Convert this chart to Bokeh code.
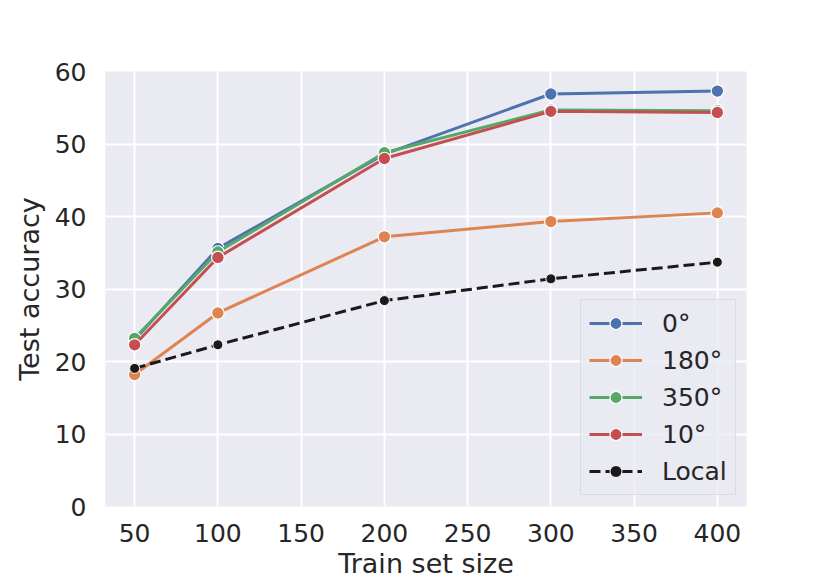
from bokeh.plotting import figure
from bokeh.models import Range1d, FixedTicker, Legend, LegendItem
from bokeh.embed import file_html
from bokeh.resources import INLINE

train_sizes = [50, 100, 200, 300, 400]
acc_0 = [23.0, 35.6, 48.6, 56.9, 57.3]
acc_180 = [18.2, 26.7, 37.2, 39.3, 40.5]
acc_350 = [23.2, 35.1, 48.8, 54.7, 54.6]
acc_10 = [22.3, 34.35, 48.0, 54.5, 54.35]
acc_local = [19.05, 22.3, 28.4, 31.4, 33.7]

series_names = ["0°", "180°", "350°", "10°"]
series_values = [acc_0, acc_180, acc_350, acc_10]
series_colors = ["#4C72B0", "#DD8452", "#55A868", "#C44E52"]
x_ticks = [50, 100, 150, 200, 250, 300, 350, 400]
y_ticks = [0, 10, 20, 30, 40, 50, 60]
x_label = "Train set size"
y_label = "Test accuracy"

FONT = "DejaVu Sans"
TXT = "#262626"

p = figure(width=830, height=581, output_backend="svg", toolbar_location=None,
           x_range=Range1d(32.5, 417.5), y_range=Range1d(0, 60),
           min_border_left=105, min_border_right=84, min_border_top=71, min_border_bottom=73)
p.background_fill_color = "#EAEAF2"
p.border_fill_color = "white"
p.outline_line_color = None

for ax in (p.xaxis[0], p.yaxis[0]):
    ax.axis_line_color = None
    ax.major_tick_line_color = None
    ax.minor_tick_line_color = None
    ax.major_tick_in = 0
    ax.major_tick_out = 0
    ax.minor_tick_in = 0
    ax.minor_tick_out = 0
    ax.major_label_text_font = FONT
    ax.major_label_text_font_size = "25px"
    ax.major_label_text_color = TXT
    ax.axis_label_text_font = FONT
    ax.axis_label_text_font_size = "27px"
    ax.axis_label_text_font_style = "normal"
    ax.axis_label_text_color = TXT

p.xaxis.ticker = FixedTicker(ticks=x_ticks)
p.yaxis.ticker = FixedTicker(ticks=y_ticks)
p.xaxis.axis_label = x_label
p.yaxis.axis_label = y_label
p.xaxis.major_label_standoff = 17
p.xaxis.axis_label_standoff = 3
p.yaxis.major_label_standoff = 19
p.yaxis.axis_label_standoff = 7

p.xgrid.ticker = FixedTicker(ticks=x_ticks)
p.ygrid.ticker = FixedTicker(ticks=y_ticks)
p.grid.grid_line_color = "white"
p.grid.grid_line_width = 2

items = []
for name, vals, col in zip(series_names, series_values, series_colors):
    ln = p.line(train_sizes, vals, line_color=col, line_width=3)
    sc = p.scatter(train_sizes, vals, size=12.5, fill_color=col, line_color="white", line_width=1.2)
    items.append(LegendItem(label=name, renderers=[ln, sc]))

ln = p.line(train_sizes, acc_local, line_color="#1a1a1a", line_width=3, line_dash="11 5")
sc = p.scatter(train_sizes, acc_local, size=10, fill_color="#1a1a1a", line_color="white", line_width=1)
items.append(LegendItem(label="Local", renderers=[ln, sc]))

legend = Legend(items=items, location=(475, 11))
legend.background_fill_color = "#EAEAF2"
legend.background_fill_alpha = 0.8
legend.border_line_color = "#CCCCCC"
legend.border_line_width = 1.5
legend.label_text_font = FONT
legend.label_text_font_size = "25px"
legend.label_text_color = TXT
legend.glyph_width = 53
legend.glyph_height = 30
legend.label_height = 30
legend.label_standoff = 20
legend.spacing = 7
legend.padding = 8
legend.margin = 0
p.add_layout(legend)

open("out.html", "w").write(file_html(p, INLINE))
